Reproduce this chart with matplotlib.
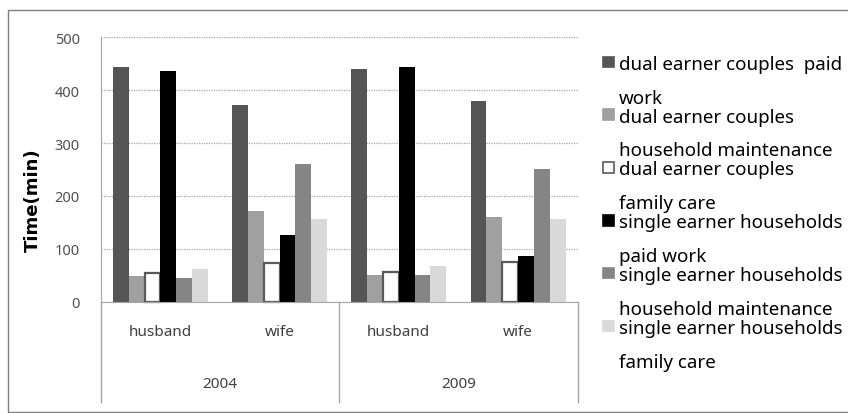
import matplotlib.pyplot as plt
from matplotlib.patches import Rectangle

plt.rcParams["font.family"] = ["Noto Sans", "DejaVu Sans"]

# categories on the x axis: (person, year)
persons = ["husband", "wife", "husband", "wife"]
years = ["2004", "2009"]

# daily time use (minutes)
dual_paid = [443, 372, 440, 380]
dual_household = [49, 171, 51, 161]
dual_family = [55, 73, 57, 75]
single_paid = [436, 127, 443, 87]
single_household = [44, 260, 51, 251]
single_family = [62, 157, 68, 157]

series = [dual_paid, dual_household, dual_family,
          single_paid, single_household, single_family]
face_colors = ["#555555", "#a0a0a0", "#ffffff", "#000000", "#858585", "#d9d9d9"]
edge_colors = ["none", "none", "#5a5a5a", "none", "none", "none"]

# legend text, as laid out beside the chart (upper line, line next to the swatch)
legend_upper = ["", "work", "household maintenance", "family care",
                "paid work", "household maintenance"]
legend_main = ["dual earner couples  paid", "dual earner couples", "dual earner couples",
               "single earner households", "single earner households",
               "single earner households"]
legend_tail = "family care"

W, H = 848, 414
fig = plt.figure(figsize=(W / 100, H / 100), dpi=100)

# outer frame
fig.patches.append(Rectangle((8 / W, 1 / H), 1.0, (H - 12) / H, transform=fig.transFigure,
                             fill=False, edgecolor="#7f7f7f", linewidth=1.0))

ax_left, ax_right, ax_top, ax_bot = 100.7, 577.7, 38.3, 302.7
ax = fig.add_axes([ax_left / W, 1 - ax_bot / H, (ax_right - ax_left) / W, (ax_bot - ax_top) / H])

n = len(series)
bar_w = 0.1326
x = range(len(persons))
for i, (vals, fc, ec) in enumerate(zip(series, face_colors, edge_colors)):
    offs = (i - (n - 1) / 2) * bar_w
    lw = 1.6 if ec != "none" else 0
    ax.bar([xi + offs for xi in x], vals, width=bar_w, color=fc, edgecolor=ec,
           linewidth=lw, zorder=3, clip_on=False)

ax.set_xlim(-0.5, len(persons) - 0.5)
ax.set_ylim(0, 500)
ax.set_yticks(range(0, 501, 100))
ax.yaxis.grid(True, linestyle=(0, (1, 1)), color="#a6a6a6", linewidth=0.9, zorder=0)
ax.set_axisbelow(True)
for side in ["top", "right"]:
    ax.spines[side].set_visible(False)
ax.spines["left"].set_color("#a6a6a6")
ax.spines["bottom"].set_color("#a6a6a6")
ax.spines["bottom"].set_zorder(4)
ax.tick_params(axis="y", length=0, pad=15, labelsize=10.5, labelcolor="#505050")
ax.set_xticks([])

# two-level category axis below the plot
ext = -(402.7 - ax_bot) / (ax_bot - ax_top)
line_kw = dict(color="#a6a6a6", linewidth=1.0, clip_on=False,
               transform=ax.get_xaxis_transform())
ax.plot([-0.5, -0.5], [0, ext], **line_kw)
ax.plot([1.5, 1.5], [0, ext], **line_kw)
ax.plot([3.5, 3.5], [0, ext], **line_kw)
for xi, name in enumerate(persons):
    ax.text(xi, -(333 - ax_bot) / (ax_bot - ax_top), name, transform=ax.get_xaxis_transform(),
            ha="center", va="center", fontsize=11, color="#404040")
for k, yr in enumerate(years):
    ax.text(2 * k + 0.5, -(385 - ax_bot) / (ax_bot - ax_top), yr,
            transform=ax.get_xaxis_transform(), ha="center", va="center",
            fontsize=11, color="#404040")

fig.text(33 / W, 1 - 200 / H, "Time(min)", rotation=90, ha="center", va="center",
         fontsize=13, fontweight="bold", family="DejaVu Sans", color="#000000")

# legend drawn beside the axes
slot0, slot_step, up_gap = 62.8, 52.8, 19
leg_fs = 13.5
for i, fc in enumerate(face_colors):
    yc = slot0 + i * slot_step
    fig.patches.append(Rectangle((603 / W, 1 - (yc + 5.3) / H), 10.5 / W, 10.5 / H,
                                 transform=fig.transFigure, facecolor=fc,
                                 edgecolor=edge_colors[i] if edge_colors[i] != "none" else fc,
                                 linewidth=1.2))
    fig.text(619 / W, 1 - (yc + 2) / H, legend_main[i], ha="left", va="center",
             fontsize=leg_fs, color="#000000")
    if legend_upper[i]:
        fig.text(619 / W, 1 - (yc + 2 - up_gap) / H, legend_upper[i], ha="left",
                 va="center", fontsize=leg_fs, color="#000000")
fig.text(619 / W, 1 - (slot0 + n * slot_step + 2 - up_gap) / H, legend_tail,
         ha="left", va="center", fontsize=leg_fs, color="#000000")

fig.savefig("out.png", dpi=100)
